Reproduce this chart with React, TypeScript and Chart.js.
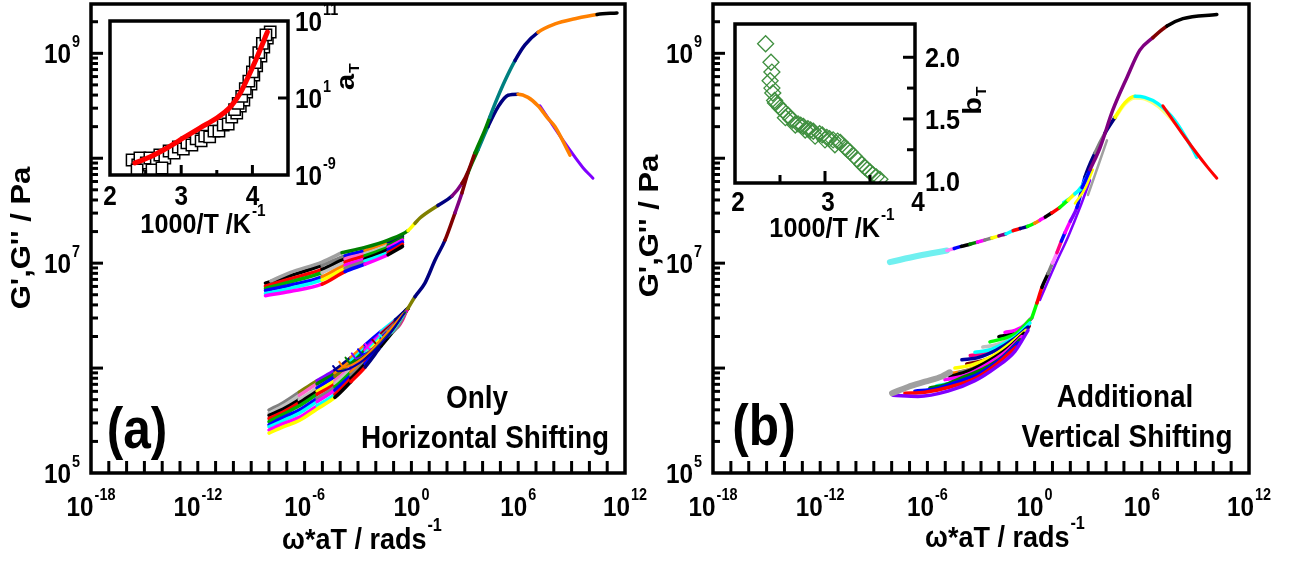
import React, { useEffect, useRef } from "react";
import { Chart, registerables } from "chart.js";

Chart.register(...registerables);

const FONT = '"Liberation Sans", Arial, Helvetica, sans-serif';
const SX = 0.9;

/* ---------------- axes ---------------- */
const MAIN_X_EXP_RANGE = [-18, 12];
const MAIN_Y_EXP_RANGE = [5, 9.47];
const MAIN_X_LABEL_EXP = [-18, -12, -6, 0, 6, 12];
const MAIN_Y_LABEL_EXP = [5, 7, 9];

const INSET_A_X_RANGE = [2, 4.5];
const INSET_A_Y_EXP_RANGE = [-9, 11];
const INSET_A_X_LABELS = [2, 3, 4];
const INSET_A_X_TICKS = [2.5, 3, 3.5, 4];
const INSET_A_Y_LABEL_EXP = [11, 1, -9];

const INSET_B_X_RANGE = [2, 4];
const INSET_B_Y_RANGE = [0.98, 2.27];
const INSET_B_X_LABELS = [2, 3, 4];
const INSET_B_X_TICKS = [2.5, 3, 3.5];
const INSET_B_Y_LABELS = [2.0, 1.5, 1.0];
const INSET_B_Y_TICKS = [1.25, 1.5, 1.75, 2.0];

/* ---------------- panel (a): only horizontal shifting (log10 w*aT, log10 G) ---------------- */
const aStorageLogW = [-3.9, -2.61, -1.31, -0.19, 0.2, 0.48, 1.49, 2.28, 2.84, 3.2, 3.57, 4.13, 4.4, 4.7, 5.26, 5.82, 6.38, 7.11, 8.07, 9.19, 10.43, 11.55];
const aStorageLogG = [7.1, 7.15, 7.22, 7.31, 7.38, 7.43, 7.55, 7.64, 7.76, 7.88, 8.05, 8.27, 8.39, 8.52, 8.74, 8.93, 9.08, 9.2, 9.28, 9.33, 9.37, 9.385];
const aStorageColors = ["#008000", "#008000", "#008000", "#ffff00", "#808000", "#808000", "#000080", "#800080", "#800000", "#800000", "#008000", "#008000", "#008080", "#008080", "#008080", "#000080", "#000080", "#ff8000", "#ff8000", "#ff8000", "#000000"];

const aStorageBandLogW = [-8.2, -6.82, -5.02, -3.73, -2.61, -1.31, -0.5];
const aStorageBandLogG = [
  [6.69, 6.73, 6.8, 6.92, 6.99, 7.08, 7.16],
  [6.71, 6.76, 6.84, 6.95, 7.02, 7.1, 7.18],
  [6.74, 6.79, 6.87, 6.98, 7.04, 7.13, 7.2],
  [6.76, 6.82, 6.91, 7.01, 7.07, 7.15, 7.22],
  [6.78, 6.85, 6.94, 7.04, 7.09, 7.17, 7.24],
  [6.81, 6.88, 6.98, 7.07, 7.12, 7.2, 7.26],
];
const aStorageBandColors = [
  ["#ff00ff", "#ff00ff", "#ff0000", "#0000ff", "#ff00ff", "#000000"],
  ["#00ffff", "#00ffff", "#ffff00", "#808080", "#00ffff", "#ff0000"],
  ["#0000ff", "#0000ff", "#ff8000", "#ff00ff", "#000000", "#0000ff"],
  ["#00b000", "#00b000", "#c0c0c0", "#ff0000", "#00b000", "#ff00ff"],
  ["#ff0000", "#ff0000", "#000000", "#ff66cc", "#c0c0c0", "#008000"],
  ["#000000", "#000000", "#808080", "#0000ff", "#ff8000", "#000080"],
];
const aStorageTopLogW = [-7.9, -6.82, -5.02, -3.9];
const aStorageTopLogG = [6.83, 6.91, 7.01, 7.1];
const aStorageTopColor = "#a0a0a0";

const aLossLogW = [-0.19, 0.2, 0.76, 1.33, 1.89, 2.45, 2.84, 3.18, 3.74, 4.3, 4.87, 5.43, 5.99, 6.55, 7.11, 7.62, 8.07, 8.91];
const aLossLogG = [6.57, 6.68, 6.81, 7.03, 7.22, 7.48, 7.67, 7.86, 8.08, 8.3, 8.49, 8.6, 8.61, 8.58, 8.5, 8.39, 8.3, 8.03];
const aLossColors = ["#808000", "#000080", "#000080", "#000080", "#800000", "#800080", "#800000", "#008000", "#008080", "#000080", "#000080", "#000080", "#ff8000", "#ff8000", "#ff8000", "#ff8000", "#ff8000"];

const aLossTailLogW = [7.22, 8.52, 9.64, 10.2];
const aLossTailLogG = [8.5, 8.17, 7.91, 7.81];
const aLossTailColor = "#8000ff";

const aLossBandLogW = [-8.0, -7.2, -6.3, -5.3, -4.3, -3.4, -2.6, -1.7, -0.9, -0.19];
const aLossBandLogG = [
  [5.38, 5.44, 5.5, 5.61, 5.72, 5.87, 6.01, 6.21, 6.38, 6.57],
  [5.41, 5.47, 5.53, 5.64, 5.75, 5.9, 6.04, 6.23, 6.39, 6.57],
  [5.44, 5.5, 5.57, 5.68, 5.79, 5.93, 6.06, 6.25, 6.4, 6.57],
  [5.46, 5.53, 5.6, 5.71, 5.82, 5.96, 6.09, 6.26, 6.41, 6.57],
  [5.49, 5.56, 5.64, 5.75, 5.85, 5.99, 6.12, 6.28, 6.42, 6.57],
  [5.52, 5.58, 5.67, 5.78, 5.88, 6.01, 6.14, 6.3, 6.43, 6.57],
  [5.55, 5.61, 5.7, 5.81, 5.92, 6.04, 6.17, 6.32, 6.44, 6.57],
  [5.57, 5.64, 5.74, 5.85, 5.95, 6.07, 6.19, 6.33, 6.45, 6.57],
  [5.6, 5.67, 5.77, 5.88, 5.98, 6.1, 6.22, 6.35, 6.46, 6.57],
];
const aLossBandColors = [
  ["#ffff00", "#ffff00", "#ffff00", "#ffff00", "#000000", "#ff0000", "#000080", "#000000", "#808000"],
  ["#ff00ff", "#ff00ff", "#ff00ff", "#00ffff", "#ff0000", "#000000", "#0000ff", "#008000", "#000080"],
  ["#00ffff", "#00ffff", "#00ffff", "#ff00ff", "#0000ff", "#808080", "#ff0000", "#000080", "#000080"],
  ["#0000ff", "#0000ff", "#0000ff", "#808080", "#00b000", "#ff8000", "#000000", "#ff00ff", "#000080"],
  ["#00b000", "#00b000", "#00b000", "#ff0000", "#c0c0c0", "#8000ff", "#ffff00", "#0000ff", "#000080"],
  ["#ff0000", "#ff0000", "#000000", "#ffff00", "#ff66cc", "#0000ff", "#00ffff", "#808080", "#000080"],
  ["#000000", "#000000", "#c0c0c0", "#0000ff", "#808000", "#008000", "#ff00ff", "#800000", "#000080"],
  ["#c0c0c0", "#c0c0c0", "#ff66cc", "#008000", "#ff8000", "#00ffff", "#8000ff", "#ff0080", "#000080"],
  ["#808080", "#808080", "#808000", "#8000ff", "#000080", "#ff8000", "#0000ff", "#00ffff", "#000080"],
];

const aLossHookLogW = [
  [-4.4, -4.12, -2.9, -1.3, -0.4], [-4.05, -3.8, -2.7, -1.4, -0.45], [-3.7, -3.45, -2.45, -1.3, -0.35],
  [-3.35, -3.1, -2.2, -1.2, -0.3], [-3.0, -2.75, -1.95, -1.0], [-2.6, -2.35, -1.65, -0.8],
  [-2.2, -1.95, -1.3, -0.6], [-1.8, -1.55, -1.0, -0.45], [-1.4, -1.15, -0.7, -0.3], [-1.0, -0.8, -0.45, -0.2],
];
const aLossHookLogG = [
  [6.02, 5.97, 6.05, 6.31, 6.52], [6.06, 6.01, 6.1, 6.33, 6.52], [6.1, 6.05, 6.14, 6.34, 6.53],
  [6.14, 6.09, 6.18, 6.36, 6.54], [6.18, 6.13, 6.22, 6.39], [6.23, 6.18, 6.26, 6.43],
  [6.27, 6.23, 6.31, 6.47], [6.32, 6.28, 6.36, 6.5], [6.36, 6.33, 6.4, 6.53], [6.41, 6.38, 6.46, 6.56],
];
const aLossHookColors = ["#0000a0", "#ff8000", "#008000", "#8000ff", "#0000ff", "#ff00ff", "#800000", "#00ffff", "#808080", "#ff0080"];

/* ---------------- panel (b): additional vertical shifting ---------------- */
const bStorageStartLogW = [-8.1, -6.5, -4.91];
const bStorageStartLogG = [7.01, 7.07, 7.12];
const bStorageStartColor = "#70f0f0";

const bStorageLogW = [-4.91, -4.5, -4.1, -3.62, -3.2, -2.8, -2.39, -2.0, -1.6, -1.2, -0.8, -0.4, 0.0, 0.3, 0.6, 0.97, 1.4, 1.87, 2.25, 2.65, 3.1, 3.66, 4.38, 5.17, 5.89, 6.62, 7.41, 8.3, 10.2];
const bStorageLogG = [7.12, 7.14, 7.16, 7.18, 7.2, 7.22, 7.24, 7.26, 7.28, 7.31, 7.33, 7.35, 7.38, 7.41, 7.44, 7.48, 7.53, 7.6, 7.66, 7.72, 7.89, 8.1, 8.46, 8.77, 9.03, 9.15, 9.26, 9.33, 9.37];
const bStorageColors = ["#ff80ff", "#0000ff", "#000000", "#008000", "#ff00ff", "#808080", "#ffff00", "#800080", "#00ffff", "#ff0000", "#000080", "#00ff00", "#ff8000", "#ff00ff", "#000000", "#ff0000", "#00ff00", "#ffff00", "#00ffff", "#0000ff", "#800080", "#800080", "#800080", "#800080", "#800080", "#800000", "#000000", "#000000"];

const bStorageSideLogW = [[2.26, 2.82, 3.26], [1.6, 2.1, 2.6, 3.0]];
const bStorageSideLogG = [[7.57, 7.71, 7.89], [7.58, 7.64, 7.73, 7.86]];
const bStorageSideColors = ["#ffff00", "#00ffff"];

const bLossStartLogW = [-7.98, -7.09, -6.14, -5.19, -4.74];
const bLossStartLogG = [5.76, 5.82, 5.87, 5.92, 5.96];
const bLossStartColor = "#a0a0a0";

const bLossFanLogW = [
  [-7.93, -6.53, -4.85, -3.34, -2.22, -1.1, -0.37], [-7.26, -6.14, -4.74, -3.23, -2.11, -1.04],
  [-6.7, -5.58, -4.46, -3.06, -1.94, -0.93], [-5.86, -5.02, -4.18, -2.89, -1.77, -0.82],
  [-5.02, -3.9, -2.72, -1.66, -0.71], [-4.74, -3.73, -2.56, -1.49, -0.6], [-4.46, -3.51, -2.39, -1.38, -0.48],
  [-4.07, -3.17, -2.16, -1.21, -0.37], [-3.34, -2.61, -1.77, -0.99, -0.26], [-2.5, -1.77, -1.04, -0.26],
  [-1.66, -1.1, -0.54, -0.15], [-4.2, -3.3, -2.3, -1.3, -0.5], [-3.8, -2.9, -1.9, -1.0, -0.3],
  [-4.6, -3.6, -2.45, -1.45, -0.55], [-5.5, -4.6, -3.5, -2.4, -1.4, -0.6], [-3.6, -2.8, -1.9, -1.1, -0.35],
  [-2.9, -2.2, -1.4, -0.6], [-2.0, -1.4, -0.8, -0.2],
];
const bLossFanLogG = [
  [5.74, 5.73, 5.78, 5.88, 6.0, 6.16, 6.36], [5.76, 5.77, 5.82, 5.91, 6.04, 6.2],
  [5.78, 5.8, 5.86, 5.95, 6.08, 6.24], [5.81, 5.84, 5.9, 5.99, 6.11, 6.27],
  [5.89, 5.93, 6.03, 6.15, 6.3], [5.92, 5.97, 6.07, 6.19, 6.33], [6.0, 6.03, 6.11, 6.23, 6.36],
  [6.08, 6.1, 6.17, 6.27, 6.39], [6.15, 6.17, 6.23, 6.31, 6.43], [6.25, 6.28, 6.33, 6.46],
  [6.34, 6.36, 6.41, 6.48], [5.96, 6.0, 6.09, 6.21, 6.35], [6.04, 6.07, 6.14, 6.25, 6.4],
  [5.95, 5.99, 6.09, 6.21, 6.34], [5.83, 5.86, 5.93, 6.03, 6.17, 6.32], [6.12, 6.14, 6.2, 6.29, 6.41],
  [6.2, 6.22, 6.28, 6.4], [6.3, 6.32, 6.37, 6.47],
];
const bLossFanColors = ["#8000ff", "#ff0000", "#0000ff", "#008000", "#ff00ff", "#000000", "#ffff00", "#0000a0", "#00ffff", "#00ff00", "#ff00ff", "#808080", "#800000", "#ff8000", "#00ffff", "#ff0080", "#c0c0c0", "#000000"];

const bLossLogW = [-0.15, 0.13, 0.41, 0.75, 1.0, 1.25, 1.5, 1.7, 2.0, 2.37, 2.82, 3.38, 3.94, 4.5, 5.06, 5.62, 6.17, 6.9, 7.85, 8.8, 9.08];
const bLossLogG = [6.48, 6.62, 6.77, 6.9, 7.0, 7.1, 7.21, 7.29, 7.4, 7.53, 7.82, 8.05, 8.24, 8.39, 8.53, 8.59, 8.58, 8.52, 8.36, 8.1, 8.01];
const bLossColors = ["#00ff00", "#ff0000", "#000000", "#808080", "#ff80ff", "#ff0080", "#0000ff", "#ff00ff", "#8000ff", "#0000ff", "#000080", "#808080", "#000080", "#ffff00", "#ffff00", "#00ffff", "#00ffff", "#00ffff", "#00ffff", "#00ffff"];

const bLossSideLogW = [[0.3, 1.14, 1.87, 2.54, 3.1], [2.99, 4.05], [4.5, 5.06, 5.62, 6.17, 6.9, 7.85]];
const bLossSideLogG = [[6.65, 6.98, 7.25, 7.53, 7.79], [7.65, 8.17], [8.37, 8.51, 8.57, 8.56, 8.49, 8.33]];
const bLossSideColors = ["#8000ff", "#a0a0a0", "#ffff80"];

const bLossTailLogW = [7.18, 8.41, 9.7, 10.2];
const bLossTailLogG = [8.5, 8.2, 7.91, 7.81];
const bLossTailColor = "#ff0000";

/* ---------------- inset (a): a_T vs 1000/T ---------------- */
const insetASquareT = [2.31, 2.39, 2.42, 2.51, 2.56, 2.65, 2.7, 2.77, 2.83, 2.9, 2.96, 3.03, 3.08, 3.15, 3.21, 3.28, 3.33, 3.4, 3.46, 3.53, 3.59, 3.66, 3.71, 3.78, 3.83, 3.88, 3.92, 3.98, 4.02, 4.06, 4.12, 4.16, 4.21, 4.25, 2.38, 2.59, 2.73, 3.75, 3.8, 3.85, 3.9, 3.95, 4.0, 4.04, 4.09, 4.14, 4.19];
const insetASquareLogA = [-7.05, -7.7, -6.79, -7.44, -6.79, -7.31, -6.4, -6.79, -5.88, -6.14, -5.36, -5.62, -4.84, -5.1, -4.32, -4.58, -3.94, -4.06, -3.29, -3.29, -2.51, -2.38, -1.47, -0.95, -0.04, 0.74, 1.78, 2.82, 3.99, 5.16, 6.45, 7.62, 8.79, 9.57, -8.35, -8.35, -8.09, -0.5, 0.3, 1.2, 2.2, 3.2, 4.4, 5.6, 6.9, 8.1, 9.2];
const insetAFitT = [2.35, 2.56, 2.8, 3.03, 3.26, 3.5, 3.69, 3.83, 3.94, 4.06, 4.21];
const insetAFitLogA = [-7.44, -6.66, -5.49, -4.19, -2.9, -1.6, -0.17, 1.65, 3.73, 6.19, 9.57];

/* ---------------- inset (b): b_T vs 1000/T ---------------- */
const insetBT = [2.34, 2.4, 2.41, 2.39, 2.41, 2.42, 2.44, 2.48, 2.53, 2.59, 2.64, 2.7, 2.76, 2.81, 2.87, 2.94, 3.02, 3.09, 3.17, 3.22, 3.28, 3.36, 3.41, 3.47, 3.53, 3.61, 2.56, 2.67, 2.78, 2.89, 3.0, 3.11, 2.45, 2.5, 2.62, 2.73, 2.84, 2.97, 3.05, 3.14, 3.25, 3.32, 3.44, 3.5, 3.57];
const insetBb = [2.11, 1.96, 1.88, 1.81, 1.75, 1.71, 1.65, 1.61, 1.57, 1.53, 1.49, 1.46, 1.44, 1.42, 1.4, 1.38, 1.35, 1.33, 1.31, 1.27, 1.23, 1.17, 1.13, 1.09, 1.05, 1.01, 1.51, 1.45, 1.41, 1.36, 1.33, 1.29, 1.63, 1.59, 1.5, 1.45, 1.41, 1.37, 1.34, 1.32, 1.25, 1.2, 1.11, 1.07, 1.03];

/* ---------------- helpers ---------------- */
const p10 = (v: number) => Math.pow(10, v);
const toLogPts = (w: number[], g: number[]) => w.map((v, i) => ({ x: p10(v), y: p10(g[i]) }));

function lineDs(w: number[], g: number[], color: string, width: number): any {
  return {
    data: toLogPts(w, g),
    borderColor: color,
    backgroundColor: color,
    borderWidth: width,
    pointRadius: 0,
    cubicInterpolationMode: "monotone",
    fill: false,
    borderCapStyle: "round",
    borderJoinStyle: "round",
  };
}
function multiDs(w: number[], g: number[], colors: string[], width: number): any {
  const ds = lineDs(w, g, colors[0], width);
  ds.segment = { borderColor: (c: any) => colors[c.p0DataIndex] || colors[colors.length - 1] };
  return ds;
}
function fanDs(ws: number[][], gs: number[][], colors: string[], width: number): any[] {
  return ws.map((w, i) => lineDs(w, gs[i], colors[i], width));
}

function seg(ctx: any, x1: number, y1: number, x2: number, y2: number) {
  ctx.beginPath();
  ctx.moveTo(x1, y1);
  ctx.lineTo(x2, y2);
  ctx.stroke();
}
function drawText(ctx: any, text: string, x: number, y: number, font: string, align: string, sx = SX) {
  ctx.save();
  ctx.font = font;
  const w = ctx.measureText(text).width * sx;
  const x0 = align === "center" ? x - w / 2 : align === "right" ? x - w : x;
  ctx.translate(x0, y);
  ctx.scale(sx, 1);
  ctx.textAlign = "left";
  ctx.textBaseline = "alphabetic";
  ctx.fillText(text, 0, 0);
  ctx.restore();
}
function drawPow(ctx: any, x: number, y: number, base: string, exp: string, size: number, align: string, weight: string) {
  const sup = Math.round(size * 0.6);
  ctx.font = `${weight} ${size}px ${FONT}`;
  const wb = ctx.measureText(base).width * SX;
  ctx.font = `${weight} ${sup}px ${FONT}`;
  const we = ctx.measureText(exp).width * SX;
  const total = wb + we + 1;
  const x0 = align === "center" ? x - total / 2 : align === "right" ? x - total : x;
  drawText(ctx, base, x0, y, `${weight} ${size}px ${FONT}`, "left");
  drawText(ctx, exp, x0 + wb + 1, y - size * 0.6, `${weight} ${sup}px ${FONT}`, "left");
}
function drawRot(ctx: any, cx: number, cy: number, text: string, size: number) {
  ctx.save();
  ctx.translate(cx, cy);
  ctx.rotate(-Math.PI / 2);
  ctx.scale(1, SX);
  ctx.font = `bold ${size}px ${FONT}`;
  ctx.textAlign = "center";
  ctx.textBaseline = "middle";
  ctx.fillText(text, 0, 0);
  ctx.restore();
}
function drawRotSub(ctx: any, cx: number, cy: number, base: string, sub: string, size: number) {
  ctx.save();
  ctx.translate(cx, cy);
  ctx.rotate(-Math.PI / 2);
  ctx.scale(1, SX);
  ctx.font = `bold ${size}px ${FONT}`;
  ctx.textAlign = "left";
  ctx.textBaseline = "alphabetic";
  const wb = ctx.measureText(base).width;
  ctx.fillText(base, -wb / 2, size * 0.27);
  ctx.font = `bold ${Math.round(size * 0.55)}px ${FONT}`;
  ctx.fillText(sub, wb / 2 + 1, size * 0.27 + size * 0.18);
  ctx.restore();
}

/* ---------------- main panel decoration ---------------- */
function mainDecor(cfg: any) {
  return {
    id: "mainDecor",
    afterDraw(chart: any) {
      const { ctx, chartArea: a } = chart;
      const xs = chart.scales.x;
      const ys = chart.scales.y;
      const ox = cfg.offsetX;
      ctx.save();
      ctx.strokeStyle = "#000";
      ctx.fillStyle = "#000";
      ctx.lineCap = "butt";
      ctx.lineWidth = 3;
      for (let n = MAIN_X_EXP_RANGE[0] + 1; n < MAIN_X_EXP_RANGE[1]; n++) {
        const px = xs.getPixelForValue(p10(n));
        seg(ctx, px, a.bottom, px, a.bottom - 12);
      }
      for (let n = MAIN_Y_EXP_RANGE[0]; n <= Math.floor(MAIN_Y_EXP_RANGE[1]); n++) {
        for (let k = 1; k <= 9; k++) {
          const v = k * p10(n);
          if (v >= ys.max) break;
          if (v <= ys.min) continue;
          const py = ys.getPixelForValue(v);
          seg(ctx, a.left, py, a.left + (k === 1 ? 12 : 7), py);
        }
      }
      ctx.lineWidth = 3.5;
      ctx.strokeRect(a.left, a.top, a.right - a.left, a.bottom - a.top);
      for (const e of MAIN_X_LABEL_EXP) {
        drawPow(ctx, xs.getPixelForValue(p10(e)), a.bottom + 43, "10", String(e), 27, "center", "bold");
      }
      for (const e of MAIN_Y_LABEL_EXP) {
        drawPow(ctx, a.left - 11, ys.getPixelForValue(p10(e)) + 10, "10", String(e), 27, "right", "bold");
      }
      drawPow(ctx, cfg.xTitle[0] - ox, cfg.xTitle[1], "\u03c9*aT / rads", "-1", 30, "center", "bold");
      drawRot(ctx, cfg.yTitle[0] - ox, cfg.yTitle[1], "G',G'' / Pa", 31);
      drawText(ctx, cfg.tag, cfg.tagPos[0] - ox, cfg.tagPos[1], `bold 57px ${FONT}`, "center", 0.87);
      for (const [t, x, y] of cfg.notes) drawText(ctx, t, x - ox, y, `bold 31px ${FONT}`, "center");
      ctx.restore();
    },
  };
}

function mainConfig(datasets: any[], padding: any, decor: any): any {
  return {
    type: "line",
    data: { datasets },
    options: {
      animation: false,
      responsive: false,
      events: [],
      layout: { padding },
      plugins: { legend: { display: false }, tooltip: { enabled: false } },
      scales: {
        x: { type: "logarithmic", min: p10(MAIN_X_EXP_RANGE[0]), max: p10(MAIN_X_EXP_RANGE[1]), display: false },
        y: { type: "logarithmic", min: p10(MAIN_Y_EXP_RANGE[0]), max: p10(MAIN_Y_EXP_RANGE[1]), display: false },
      },
    },
    plugins: [mainDecor(decor)],
  };
}

function configMainA() {
  const datasets = [
    multiDs(aStorageLogW, aStorageLogG, aStorageColors, 3.5),
    multiDs(aLossLogW, aLossLogG, aLossColors, 3.5),
    lineDs(aLossTailLogW, aLossTailLogG, aLossTailColor, 3),
    lineDs(aStorageTopLogW, aStorageTopLogG, aStorageTopColor, 3.5),
    ...aStorageBandLogG.map((g, i) => multiDs(aStorageBandLogW, g, aStorageBandColors[i], 3.5)),
    ...fanDs(aLossHookLogW, aLossHookLogG, aLossHookColors, 2),
    ...aLossBandLogG.map((g, i) => multiDs(aLossBandLogW, g, aLossBandColors[i], 3.5)),
  ];
  return mainConfig(datasets, { left: 91, top: 4, right: 40, bottom: 92 }, {
    offsetX: 0,
    xTitle: [362, 549],
    yTitle: [22, 238],
    tag: "(a)",
    tagPos: [137, 448],
    notes: [["Only", 477, 408], ["Horizontal Shifting", 485, 448]],
  });
}

function configMainB() {
  const datasets = [
    multiDs(bStorageLogW, bStorageLogG, bStorageColors, 3.5),
    ...fanDs(bStorageSideLogW, bStorageSideLogG, bStorageSideColors, 2.5),
    lineDs(bStorageStartLogW, bStorageStartLogG, bStorageStartColor, 6),
    lineDs(bLossTailLogW, bLossTailLogG, bLossTailColor, 3),
    multiDs(bLossLogW, bLossLogG, bLossColors, 3.5),
    ...fanDs(bLossSideLogW, bLossSideLogG, bLossSideColors, 2.5),
    lineDs(bLossStartLogW, bLossStartLogG, bLossStartColor, 6),
    ...fanDs(bLossFanLogW, bLossFanLogG, bLossFanColors, 3.5),
  ];
  return mainConfig(datasets, { left: 83, top: 4, right: 46, bottom: 92 }, {
    offsetX: 630,
    xTitle: [1005, 547],
    yTitle: [650, 226],
    tag: "(b)",
    tagPos: [764, 445],
    notes: [["Additional", 1125, 407], ["Vertical Shifting", 1127, 447]],
  });
}

/* ---------------- insets ---------------- */
function configInsetA(): any {
  const ox = 90;
  return {
    type: "scatter",
    data: {
      datasets: [
        {
          data: insetAFitT.map((t, i) => ({ x: t, y: p10(insetAFitLogA[i]) })),
          showLine: true,
          borderColor: "#ff0000",
          borderWidth: 5,
          pointRadius: 0,
          cubicInterpolationMode: "monotone",
          borderCapStyle: "round",
        },
        {
          data: insetASquareT.map((t, i) => ({ x: t, y: p10(insetASquareLogA[i]) })),
          pointStyle: "rect",
          pointRadius: 8,
          borderColor: "#000",
          backgroundColor: "#fff",
          borderWidth: 1.5,
        },
      ],
    },
    options: {
      animation: false,
      responsive: false,
      events: [],
      layout: { padding: { left: 20, top: 21, right: 102, bottom: 75 } },
      plugins: { legend: { display: false }, tooltip: { enabled: false } },
      scales: {
        x: { type: "linear", min: INSET_A_X_RANGE[0], max: INSET_A_X_RANGE[1], display: false },
        y: { type: "logarithmic", min: p10(INSET_A_Y_EXP_RANGE[0]), max: p10(INSET_A_Y_EXP_RANGE[1]), display: false },
      },
    },
    plugins: [
      {
        id: "insetADecor",
        afterDraw(chart: any) {
          const { ctx, chartArea: a } = chart;
          const xs = chart.scales.x;
          const ys = chart.scales.y;
          ctx.save();
          ctx.strokeStyle = "#000";
          ctx.fillStyle = "#000";
          ctx.lineWidth = 3;
          for (const v of INSET_A_X_TICKS) {
            const px = xs.getPixelForValue(v);
            seg(ctx, px, a.bottom, px, a.bottom - (Number.isInteger(v) ? 10 : 5));
          }
          const pm = ys.getPixelForValue(p10(1));
          seg(ctx, a.right, pm, a.right - 10, pm);
          ctx.lineWidth = 3.5;
          ctx.strokeRect(a.left, a.top, a.right - a.left, a.bottom - a.top);
          for (const v of INSET_A_X_LABELS) {
            drawText(ctx, String(v), xs.getPixelForValue(v), a.bottom + 30, `bold 27px ${FONT}`, "center");
          }
          for (const e of INSET_A_Y_LABEL_EXP) {
            drawPow(ctx, a.right + 7, ys.getPixelForValue(p10(e)) + 10, "10", String(e), 27, "left", "bold");
          }
          drawPow(ctx, 203 - ox, 233, "1000/T /K", "-1", 28, "center", "bold");
          drawRotSub(ctx, 347 - ox, 82, "a", "T", 29);
          ctx.restore();
        },
      },
    ],
  };
}

function configInsetB(): any {
  const ox = 715;
  return {
    type: "scatter",
    data: {
      datasets: [
        {
          data: insetBT.map((t, i) => ({ x: t, y: insetBb[i] })),
          pointStyle: "rectRot",
          pointRadius: 8,
          borderColor: "#3f8f3f",
          backgroundColor: "rgba(0,0,0,0)",
          borderWidth: 1.3,
        },
      ],
    },
    options: {
      animation: false,
      responsive: false,
      events: [],
      layout: { padding: { left: 20, top: 24, right: 100, bottom: 67 } },
      plugins: { legend: { display: false }, tooltip: { enabled: false } },
      scales: {
        x: { type: "linear", min: INSET_B_X_RANGE[0], max: INSET_B_X_RANGE[1], display: false },
        y: { type: "linear", min: INSET_B_Y_RANGE[0], max: INSET_B_Y_RANGE[1], display: false },
      },
    },
    plugins: [
      {
        id: "insetBDecor",
        afterDraw(chart: any) {
          const { ctx, chartArea: a } = chart;
          const xs = chart.scales.x;
          const ys = chart.scales.y;
          ctx.save();
          ctx.strokeStyle = "#000";
          ctx.fillStyle = "#000";
          ctx.lineWidth = 3;
          for (const v of INSET_B_X_TICKS) {
            const px = xs.getPixelForValue(v);
            seg(ctx, px, a.bottom, px, a.bottom - (Number.isInteger(v) ? 12 : 8));
          }
          for (const v of INSET_B_Y_TICKS) {
            const py = ys.getPixelForValue(v);
            seg(ctx, a.right, py, a.right - (v % 0.5 === 0 ? 12 : 8), py);
          }
          ctx.lineWidth = 3.5;
          ctx.strokeRect(a.left, a.top, a.right - a.left, a.bottom - a.top);
          for (const v of INSET_B_X_LABELS) {
            drawText(ctx, String(v), xs.getPixelForValue(v) + 3, a.bottom + 28, `bold 27px ${FONT}`, "center");
          }
          for (const v of INSET_B_Y_LABELS) {
            drawText(ctx, v.toFixed(1), a.right + 10, ys.getPixelForValue(v) + 10, `bold 28px ${FONT}`, "left");
          }
          drawPow(ctx, 832 - ox, 237, "1000/T /K", "-1", 28, "center", "bold");
          drawRotSub(ctx, 974 - ox, 106, "b", "T", 29);
          ctx.restore();
        },
      },
    ],
  };
}

export default function App() {
  const mainA = useRef<HTMLCanvasElement>(null);
  const mainB = useRef<HTMLCanvasElement>(null);
  const insetA = useRef<HTMLCanvasElement>(null);
  const insetB = useRef<HTMLCanvasElement>(null);

  useEffect(() => {
    const charts = [
      new Chart(mainA.current as HTMLCanvasElement, configMainA()),
      new Chart(mainB.current as HTMLCanvasElement, configMainB()),
      new Chart(insetA.current as HTMLCanvasElement, configInsetA()),
      new Chart(insetB.current as HTMLCanvasElement, configInsetB()),
    ];
    return () => charts.forEach((c) => c.destroy());
  }, []);

  const place = (left: number, width: number, height: number): any => ({
    position: "absolute",
    left,
    top: 0,
    width,
    height,
  });

  return (
    <div style={{ position: "fixed", left: 0, top: 0, width: 1295, height: 565, background: "#fff", overflow: "hidden" }}>
      <canvas ref={mainA} width={665} height={565} style={place(0, 665, 565)} />
      <canvas ref={mainB} width={665} height={565} style={place(630, 665, 565)} />
      <canvas ref={insetA} width={300} height={250} style={place(90, 300, 250)} />
      <canvas ref={insetB} width={300} height={250} style={place(715, 300, 250)} />
    </div>
  );
}
